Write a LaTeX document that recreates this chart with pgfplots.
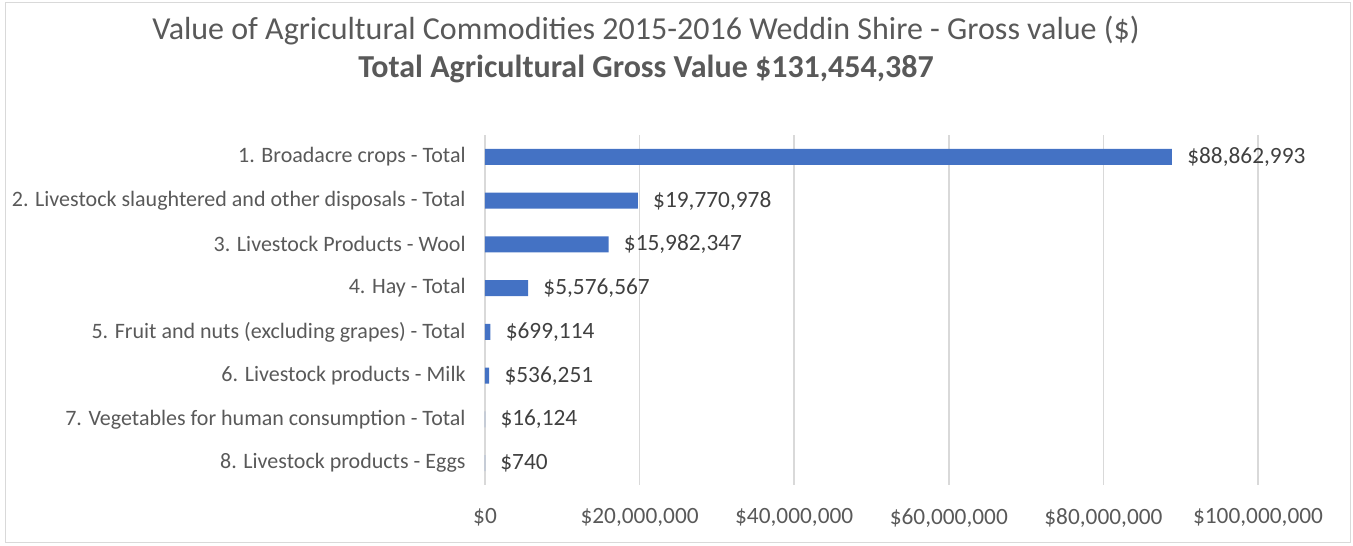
\documentclass[border=0pt]{standalone}
\usepackage{pgfplots}
\pgfplotsset{compat=1.18}
\usepackage{pgfplotstable}
\usepackage{fontspec}
\setmainfont{Carlito}
\definecolor{barblue}{HTML}{4472C4}
\definecolor{txtgray}{HTML}{595959}
\definecolor{valgray}{HTML}{404040}
\definecolor{gridgray}{HTML}{D9D9D9}
\pgfplotstableread{
idx val lab
0 88862993 88,862,993
1 19770978 19,770,978
2 15982347 15,982,347
3 5576567 5,576,567
4 699114 699,114
5 536251 536,251
6 16124 16,124
7 740 740
}\datatable
\begin{document}
\begin{tikzpicture}
\path[use as bounding box] (0,0) rectangle (1014.75pt,409.5pt);
\draw[gridgray, line width=0.75pt] (3.75pt,2.25pt) rectangle (1012.5pt,407.25pt);
\node[txtgray, font=\fontsize{24}{28}\selectfont] at (484.5pt,386.5pt) {Value of Agricultural Commodities 2015-2016 Weddin Shire - Gross value (\$)};
\node[txtgray, font=\fontsize{24}{28}\selectfont\bfseries] at (484.5pt,358pt) {Total Agricultural Gross Value \$131,454,387};
\begin{axis}[
  at={(363.75pt,45.75pt)}, anchor=south west,
  scale only axis, width=579.75pt, height=262.5pt,
  xbar, bar width=12pt,
  xmin=0, xmax=100000000,
  ymin=-0.5, ymax=7.5, y dir=reverse,
  ytick={0,...,7},
  yticklabels={{1. Broadacre crops - Total},{2. Livestock slaughtered and other disposals - Total},{3. Livestock Products - Wool},{4. Hay - Total},{5. Fruit and nuts (excluding grapes) - Total},{6. Livestock products - Milk},{7. Vegetables for human consumption - Total},{8. Livestock products - Eggs}},
  xtick={0,20000000,40000000,60000000,80000000,100000000},
  xticklabels={{\$0},{\$20,000,000},{\$40,000,000},{\$60,000,000},{\$80,000,000},{\$100,000,000}},
  scaled x ticks=false,
  major tick length=0pt,
  axis line style={draw=none},
  xmajorgrids, grid style={gridgray, line width=1.1pt},
  yticklabel style={txtgray, font=\fontsize{16.5}{19}\selectfont, xshift=-11pt},
  xticklabel style={txtgray, font=\fontsize{17.5}{20}\selectfont, yshift=-14pt},
  nodes near coords={\$\pgfplotspointmeta},
  point meta=explicit symbolic,
  nodes near coords style={valgray, font=\fontsize{17.5}{20}\selectfont, anchor=west, xshift=8pt},
  clip=false,
]
\addplot[fill=barblue, draw=none] table[x=val, y=idx, meta=lab] {\datatable};
\end{axis}
\end{tikzpicture}
\end{document}
